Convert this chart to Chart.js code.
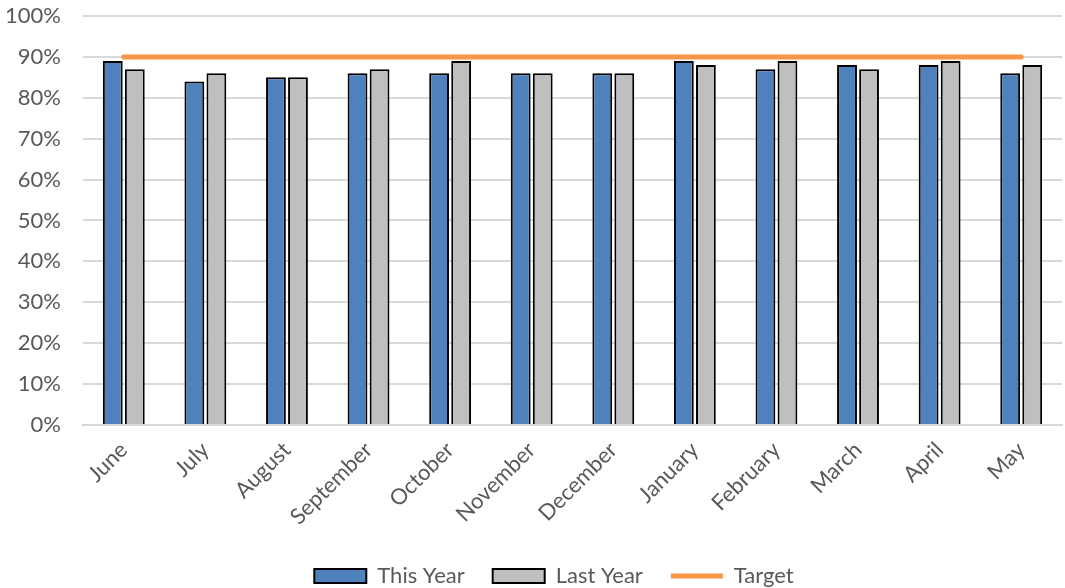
<!DOCTYPE html>
<html>
<head>
<meta charset="utf-8">
<script src="https://cdn.jsdelivr.net/npm/chart.js@4"></script>
<style>
  html, body { margin: 0; padding: 0; background: #fff; }
  #wrap { width: 1065px; height: 588px; }
</style>
</head>
<body>
<div id="wrap"><canvas id="chart"></canvas></div>
<script>
const months = ["June", "July", "August", "September", "October", "November", "December",
  "January", "February", "March", "April", "May"]
const thisYear = [89, 84, 85, 86, 86, 86, 86, 89, 87, 88, 88, 86]
const lastYear = [87, 86, 85, 87, 89, 86, 86, 88, 89, 87, 89, 88]
const target = [90, 90, 90, 90, 90, 90, 90, 90, 90, 90, 90, 90]

const font = "Lato, 'Open Sans', 'Liberation Sans', sans-serif"

// nudge the legend lower and a little to the right
const legendShift = {
  id: "legendShift",
  afterLayout(chart) {
    chart.legend.top += 9
    chart.legend.bottom += 9
    chart.legend.left += 21
    chart.legend.right += 21
  },
}

const ctx = document.getElementById("chart").getContext("2d")
new Chart(ctx, {
  type: "bar",
  data: {
    labels: months,
    datasets: [
      {
        label: "This Year",
        data: thisYear,
        backgroundColor: "#4F81BD",
        borderColor: "#000",
        borderWidth: 2,
        categoryPercentage: 0.54,
        barPercentage: 0.9,
        pointStyle: "rect",
        order: 2,
      },
      {
        label: "Last Year",
        data: lastYear,
        backgroundColor: "#BFBFBF",
        borderColor: "#000",
        borderWidth: 2,
        categoryPercentage: 0.54,
        barPercentage: 0.9,
        pointStyle: "rect",
        order: 2,
      },
      {
        type: "line",
        label: "Target",
        data: target,
        borderColor: "#F79646",
        backgroundColor: "#F79646",
        borderWidth: 5,
        borderCapStyle: "round",
        pointRadius: 0,
        pointStyle: "line",
        order: 1,
      },
    ],
  },
  plugins: [legendShift],
  options: {
    responsive: true,
    maintainAspectRatio: false,
    animation: false,
    layout: { padding: { top: 16, right: 3, left: 4, bottom: 0 } },
    plugins: {
      tooltip: { enabled: false },
      legend: {
        position: "bottom",
        labels: {
          usePointStyle: true,
          pointStyleWidth: 52,
          boxHeight: 14,
          padding: 28,
          color: "#595959",
          font: { family: font, size: 22 },
          sort: (a, b) => a.datasetIndex - b.datasetIndex,
        },
      },
    },
    scales: {
      x: {
        grid: { display: false },
        border: { color: "#D9D9D9", width: 2 },
        ticks: {
          color: "#595959",
          padding: 4,
          font: { family: font, size: 22 },
          maxRotation: 45,
          minRotation: 45,
        },
        afterFit: (scale) => {
          scale.paddingLeft = 0
          scale.paddingRight = 0
          scale.height -= 6
        },
      },
      y: {
        min: 0,
        max: 100,
        border: { display: false },
        grid: { color: "#D9D9D9", lineWidth: 2, drawTicks: false },
        ticks: {
          stepSize: 10,
          padding: 22,
          color: "#595959",
          font: { family: font, size: 22 },
          callback: (v) => v + "%",
        },
        afterFit: (scale) => {
          scale.paddingTop = 0
          scale.paddingBottom = 0
          scale.width = 79
        },
      },
    },
  },
})
</script>
</body>
</html>
